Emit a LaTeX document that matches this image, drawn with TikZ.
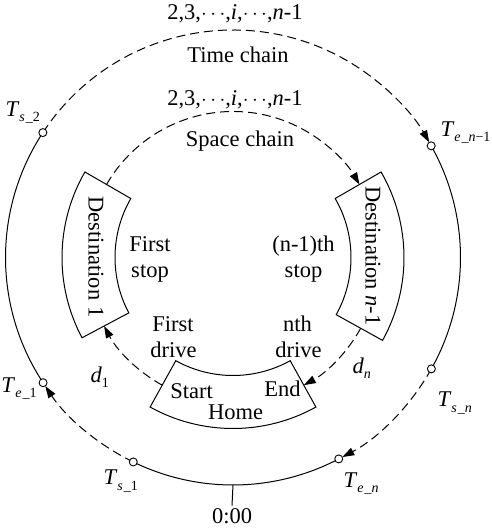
\documentclass[tikz,border=0pt]{standalone}
\usepackage{fontspec}
\setmainfont{Liberation Serif}
\usetikzlibrary{arrows.meta,calc}
\newcommand\Tl[2]{\textit{T}\raisebox{-5pt}{\fontsize{14}{14}\selectfont\textit{#1}\kern1pt\_#2}}
\begin{document}
\begin{tikzpicture}[x=1pt,y=1pt,line width=1pt,
  lbl/.style={font=\fontsize{22.5}{26}\selectfont,inner sep=0pt},
  chain/.style={dash pattern=on 9pt off 5pt},
  tip/.style={-{Triangle[length=12pt,width=8pt]}},
  tmark/.style={circle,draw,fill=white,minimum size=8pt,inner sep=0pt,line width=0.9pt},
  boxline/.style={line width=1pt}]
\useasboundingbox (0,0) rectangle (491,528);
\coordinate (C) at (233,270.5);
\def\R{227.5}
\def\ri{118}
\def\ro{171}
\def\rc{146}
% outer time circle points
\coordinate (ps2) at ($(C)+(146.7:\R)$);
\coordinate (pe1) at ($(C)+(213.4:\R)$);
\coordinate (ps1) at ($(C)+(244:\R)$);
\coordinate (pen) at ($(C)+(297.7:\R)$);
\coordinate (psn) at ($(C)+(-29.3:\R)$);
\coordinate (pen1) at ($(C)+(29.4:\R)$);
\coordinate (zero) at ($(C)+(270:\R)$);
% outer circle solid parts
\draw (ps2) arc[start angle=146.7,end angle=213.4,radius=\R];
\draw (ps1) arc[start angle=244,end angle=297.7,radius=\R];
\draw (psn) arc[start angle=-29.3,end angle=29.4,radius=\R];
% outer circle dashed parts
\draw[chain,tip,shorten >=4pt] (ps2) arc[start angle=146.7,end angle=29.4,radius=\R];
\draw[chain,tip,shorten >=4pt] (ps1) arc[start angle=244,end angle=213.4,radius=\R];
\draw[chain,tip,shorten >=4pt] (psn) arc[start angle=-29.3,end angle=-62.3,radius=\R];
% markers
\node[tmark] (ts2) at (ps2) {};
\node[tmark] (te1) at (pe1) {};
\node[tmark] (ts1) at (ps1) {};
\node[tmark] (ten) at (pen) {};
\node[tmark] (tsn) at (psn) {};
\node[tmark] (ten1) at (pen1) {};
% zero tick
\node[lbl,anchor=base] (zl) at (232,5) {0:00};
\draw (zero) -- ([yshift=2pt]zl.north);
% boxes
\draw[boxline] ($(C)+(150:\ri)$) arc[start angle=150,end angle=208,radius=\ri]
  -- ($(C)+(208:\ro)$) arc[start angle=208,end angle=150,radius=\ro] -- cycle;
\draw[boxline] ($(C)+(-29:\ri)$) arc[start angle=-29,end angle=30,radius=\ri]
  -- ($(C)+(30:\ro)$) arc[start angle=30,end angle=-29,radius=\ro] -- cycle;
\draw[boxline] ($(C)+(241:\ri)$) arc[start angle=241,end angle=299,radius=\ri]
  -- ($(C)+(299:\ro)$) arc[start angle=299,end angle=241,radius=\ro] -- cycle;
% box edge points for the space chain
\coordinate (d1top) at ($(C)+(150:\rc)$);
\coordinate (d1bot) at ($(C)+(208:\rc)$);
\coordinate (dntop) at ($(C)+(30:\rc)$);
\coordinate (dnbot) at ($(C)+(-29:\rc)$);
\coordinate (hl) at ($(C)+(241:\rc)$);
\coordinate (hr) at ($(C)+(299:\rc)$);
\draw[chain,tip] (d1top) arc[start angle=150,end angle=30,radius=\rc];
\draw[chain,tip] (hl) arc[start angle=241,end angle=208,radius=\rc];
\draw[chain,tip] (dnbot) arc[start angle=-29,end angle=-61,radius=\rc];
% box texts
\node[lbl,rotate=-90] (dest1) at (96,271) {Destination 1};
\node[lbl,rotate=-90] (destn) at (373,272) {Destination \textit{n}-1};
\node[lbl,anchor=base] (start) at (191.5,129) {Start};
\node[lbl,anchor=base] (end) at (282.5,131) {End};
\node[lbl,anchor=base] (home) at (235.5,108) {Home};
% inner texts
\node[lbl,anchor=base] (fs1) at (150,276) {First};
\node[lbl,anchor=base] (fs2) at (150,250) {stop};
\node[lbl,anchor=base] (ns1) at (303.5,276) {(n-1)th};
\node[lbl,anchor=base] (ns2) at (303.5,250) {stop};
\node[lbl,anchor=base] (fd1) at (173,196) {First};
\node[lbl,anchor=base] (fd2) at (173.5,170) {drive};
\node[lbl,anchor=base] (nd1) at (297.5,196) {nth};
\node[lbl,anchor=base] (nd2) at (298.5,170) {drive};
% chain labels
\node[lbl,anchor=base] (tnum) at (235,508) {2,3,$\cdots$,\textit{i},$\cdots$,\textit{n}-1};
\node[lbl,anchor=base] (tch) at (238,465) {Time chain};
\node[lbl,anchor=base] (snum) at (235,422) {2,3,$\cdots$,\textit{i},$\cdots$,\textit{n}-1};
\node[lbl,anchor=base] (sch) at (240,381) {Space chain};
% time labels
\node[lbl,anchor=base west] (lts2) at (5,411) {\Tl{s}{2}};
\node[lbl,anchor=base west] (lten1) at (440,391) {\Tl{e}{\textit{n}−1}};
\node[lbl,anchor=base west] (lte1) at (1,135) {\Tl{e}{1}};
\node[lbl,anchor=base west] (ltsn) at (437,121) {\Tl{s}{\textit{n}}};
\node[lbl,anchor=base west] (lts1) at (103,43) {\Tl{s}{1}};
\node[lbl,anchor=base west] (lten) at (343,41) {\Tl{e}{\textit{n}}};
% distance labels
\node[lbl,anchor=base west] (ld1) at (90,145) {\textit{d}\raisebox{-5pt}{\fontsize{14}{14}\selectfont 1}};
\node[lbl,anchor=base west] (ldn) at (352,154) {\textit{d}\raisebox{-5pt}{\fontsize{14}{14}\selectfont\textit{n}}};
\end{tikzpicture}
\end{document}
